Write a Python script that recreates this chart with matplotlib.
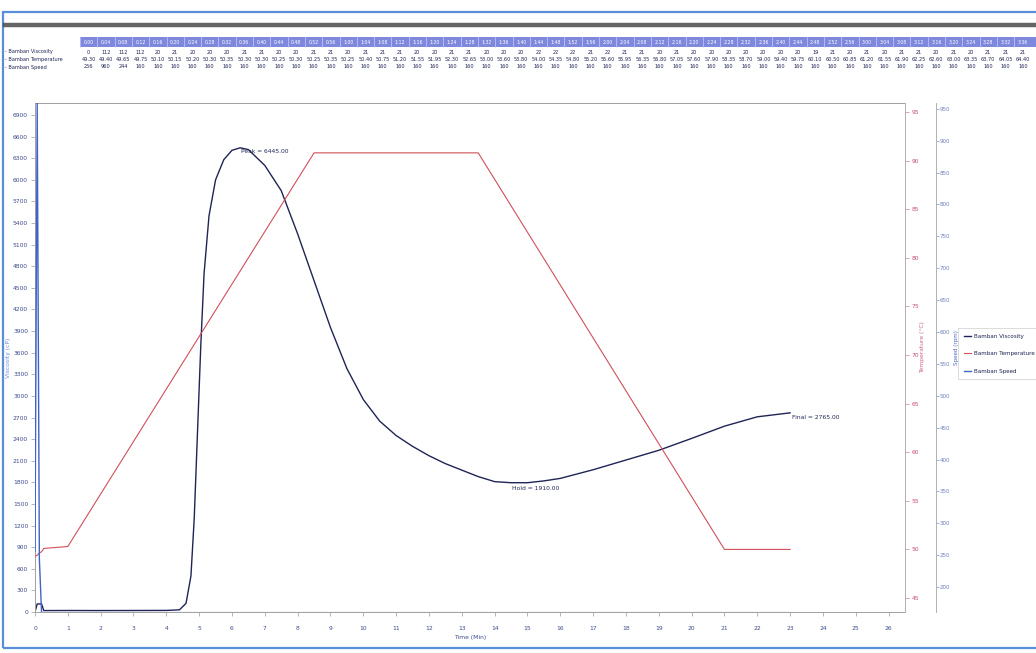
import matplotlib.pyplot as plt
from matplotlib.lines import Line2D
from matplotlib.patches import Rectangle

# ---- curve data ----
visc_time = [0, 0.067, 0.133, 0.2, 0.267, 1, 2, 3, 4, 4.4, 4.6, 4.75, 4.85, 4.95,
             5.05, 5.15, 5.3, 5.5, 5.75, 6.0, 6.25, 6.5, 7.0, 7.5, 8.0, 8.5, 9.0,
             9.5, 10.0, 10.5, 11.0, 11.5, 12.0, 12.5, 13.0, 13.5, 14.0, 14.5, 15.0,
             15.5, 16.0, 17.0, 18.0, 19.0, 20.0, 21.0, 22.0, 23.0]
visc_cp = [0, 112, 112, 112, 20, 21, 20, 21, 22, 30, 120, 500, 1300, 2500,
           3700, 4700, 5500, 6000, 6280, 6410, 6445, 6420, 6200, 5850, 5250, 4600, 3950,
           3380, 2950, 2650, 2450, 2300, 2170, 2060, 1970, 1880, 1810, 1795, 1795,
           1820, 1855, 1975, 2110, 2245, 2410, 2580, 2710, 2765]

temp_time = [0, 0.067, 0.133, 0.2, 0.267, 1.0, 8.5, 13.5, 21.0, 23.0]
temp_c = [49.30, 49.40, 49.65, 49.75, 50.10, 50.30, 90.8, 90.8, 50.0, 50.0]

speed_time = [0, 0.067, 0.133, 0.2, 23.0]
speed_rpm = [256, 960, 244, 160, 160]

# ---- table rows at the top ----
row_names = ["Bamban Viscosity", "Bamban Temperature", "Bamban Speed"]
tab_visc = [0, 112, 112, 112, 20, 21, 20, 20, 20, 21, 21, 20, 20, 21, 21, 20, 21, 21,
            21, 20, 20, 21, 21, 20, 20, 20, 22, 22, 22, 21, 22, 21, 21, 20, 21, 20,
            20, 20, 20, 20, 20, 20, 19, 21, 20, 21, 20, 21, 21, 20, 21, 20, 21, 21, 21, 21]
tab_temp = ["49.30", "49.40", "49.65", "49.75", "50.10", "50.15", "50.20", "50.30",
            "50.35", "50.30", "50.30", "50.25", "50.30", "50.25", "50.35", "50.25",
            "50.40", "50.75", "51.20", "51.55", "51.95", "52.30", "52.65", "53.00",
            "53.60", "53.80", "54.00", "54.35", "54.80", "55.20", "55.60", "55.95",
            "56.35", "56.80", "57.05", "57.60", "57.90", "58.35", "58.70", "59.00",
            "59.40", "59.75", "60.10", "60.50", "60.85", "61.20", "61.55", "61.90",
            "62.25", "62.60", "63.00", "63.35", "63.70", "64.05", "64.40", "64.80"]
tab_speed = [256, 960, 244] + [160] * 53
tab_head = [f"{s // 60}:{s % 60:02d}" for s in range(0, 4 * len(tab_visc), 4)]

navy = "#1f2455"
red = "#d0505a"
blue = "#3f63c8"
tick_blue = "#3d4a8c"

W, H = 1036, 653
fig = plt.figure(figsize=(W / 100, H / 100), dpi=100)


def fx(px):
    return px / W


def fy(py):
    return 1 - py / H


# scan frame + shadow
fig.add_artist(Rectangle((fx(3), fy(648)), fx(1040) - fx(3), fy(12) - fy(648),
                         transform=fig.transFigure, fill=False, ec="#5b8ed8", lw=1.6))
fig.add_artist(Line2D([fx(5), fx(1036)], [fy(25), fy(25)], transform=fig.transFigure,
                      color="#4a4a4a", lw=3.2, alpha=0.85))

# table
col_x0, col_w = 80, 17.3
fig.add_artist(Rectangle((fx(col_x0), fy(47)), fx(1036) - fx(col_x0), fy(37) - fy(47),
                         transform=fig.transFigure, color="#7e88dd", lw=0))
for i, lab in enumerate(tab_head):
    cx = col_x0 + col_w * (i + 0.5)
    if cx > 1036:
        break
    fig.add_artist(Line2D([fx(col_x0 + col_w * i)] * 2, [fy(47), fy(37)],
                          transform=fig.transFigure, color="#c9ceff", lw=0.5))
    fig.text(fx(cx), fy(42), lab, color="white", fontsize=3.3, ha="center", va="center")
    fig.text(fx(cx), fy(52), str(tab_visc[i]), color=navy, fontsize=3.6, ha="center", va="center")
    fig.text(fx(cx), fy(59.5), tab_temp[i], color=navy, fontsize=3.6, ha="center", va="center")
    fig.text(fx(cx), fy(67), str(tab_speed[i]), color=navy, fontsize=3.6, ha="center", va="center")
for k, name in enumerate(row_names):
    fig.text(fx(5), fy(52 + k * 7.5), "- " + name, color=navy, fontsize=3.6, ha="left", va="center")

# main axes
ax = fig.add_axes([fx(35), fy(612), fx(905) - fx(35), fy(103) - fy(612)])
ax.set_xlim(0, 26.5)
ax.set_ylim(0, 7067)
ax.set_xticks(range(0, 27))
ax.set_yticks(range(0, 7000, 300))
ax.tick_params(axis="both", labelsize=4.3, length=3, width=0.5, color="#999999",
               labelcolor=tick_blue, pad=2)
ax.tick_params(axis="x", pad=7)
ax.set_xlabel("Time (Min)", fontsize=4.3, color=tick_blue, labelpad=3)
ax.set_ylabel("Viscosity (cP)", fontsize=4.3, color="#6c8be0")
ax.yaxis.set_label_coords(-0.028, 0.5)
for s in ["left", "top", "bottom"]:
    ax.spines[s].set_color("#a0a0a0")
    ax.spines[s].set_linewidth(0.7)
ax.spines["right"].set_visible(False)

tax = ax.twinx()
tax.set_ylim(43.56, 95.93)
tax.set_yticks(range(45, 100, 5))
tax.tick_params(labelsize=4.3, length=3, width=0.5, color="#d08090", labelcolor="#c2506e", pad=2)
tax.set_ylabel("Temperature (°C)", fontsize=4.3, color="#d0608a")
tax.yaxis.set_label_coords(1.017, 0.52)
tax.spines["right"].set_color("#b0b0b0")
tax.spines["right"].set_linewidth(0.7)
for s in ["left", "top", "bottom"]:
    tax.spines[s].set_visible(False)

sax = ax.twinx()
sax.spines["right"].set_position(("outward", 22))
sax.set_ylim(161, 959)
sax.set_yticks(range(200, 1000, 50))
sax.tick_params(labelsize=4.0, length=2, width=0.5, color="#8090c0", labelcolor="#6f7fb8", pad=1)
sax.set_ylabel("Speed (rpm)", fontsize=4.1, color="#4a68c8")
sax.yaxis.set_label_coords(1.056, 0.52)
sax.spines["right"].set_color("#b0b0b0")
sax.spines["right"].set_linewidth(0.7)
for s in ["left", "top", "bottom"]:
    sax.spines[s].set_visible(False)

sax.plot(speed_time, speed_rpm, color=blue, lw=1.0)
tax.plot(temp_time, temp_c, color=red, lw=0.8)
ax.plot(visc_time, visc_cp, color=navy, lw=1.0)

ax.annotate("Peak = 6445.00", (6.25, 6445), xytext=(0.5, -3), textcoords="offset points",
            fontsize=4.3, color=navy, ha="left", va="center")
ax.annotate("Hold = 1910.00", (14.5, 1795), xytext=(1, -4.5), textcoords="offset points",
            fontsize=4.3, color=navy, ha="left", va="center")
ax.annotate("Final = 2765.00", (23.0, 2765), xytext=(1.5, -3), textcoords="offset points",
            fontsize=4.3, color=navy, ha="left", va="center")

handles = [Line2D([], [], color=navy, lw=1.0), Line2D([], [], color=red, lw=0.8),
           Line2D([], [], color=blue, lw=1.0)]
leg = fig.legend(handles, row_names, loc="upper left", bbox_to_anchor=(fx(958), fy(328)),
                 fontsize=4.1, frameon=True, fancybox=False, handlelength=1.2,
                 handletextpad=0.6, labelspacing=2.2, borderpad=1.0, borderaxespad=0)
leg.get_frame().set_edgecolor("#cccccc")
leg.get_frame().set_linewidth(0.6)
for t in leg.get_texts():
    t.set_color(navy)

fig.savefig("out.png", dpi=100)
